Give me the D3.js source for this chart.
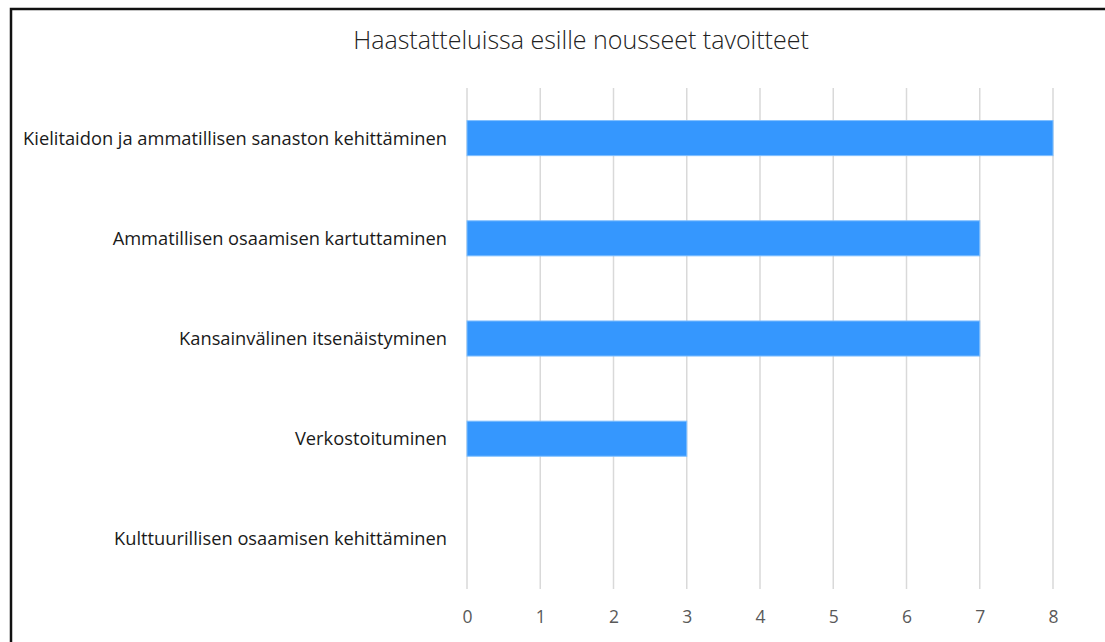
<!DOCTYPE html>
<html><head><meta charset="utf-8">
<script src="https://cdn.jsdelivr.net/npm/d3@7"></script>
<style>body{margin:0;background:#fff}svg{display:block}</style>
</head><body>
<svg id="c" width="1105" height="642"></svg>
<script>
const title = "Haastatteluissa esille nousseet tavoitteet";
const categories = [
  "Kielitaidon ja ammatillisen sanaston kehittäminen",
  "Ammatillisen osaamisen kartuttaminen",
  "Kansainvälinen itsenäistyminen",
  "Verkostoituminen",
  "Kulttuurillisen osaamisen kehittäminen"
];
const values = [8, 7, 7, 3, 0];
const ticks = [0, 1, 2, 3, 4, 5, 6, 7, 8];

const svg = d3.select("#c");
const font = "'Open Sans', sans-serif";

svg.append("rect").attr("x", 11).attr("y", 9).attr("width", 1200).attr("height", 700)
  .attr("fill", "none").attr("stroke", "#111").attr("stroke-width", 2.5);

const x = d3.scaleLinear().domain([0, 8]).range([467, 1053]);
const y = d3.scaleBand().domain(categories).range([88, 589]).paddingInner(0.65).paddingOuter(0.325);

svg.append("g").selectAll("line").data(ticks).join("line")
  .attr("x1", d => x(d)).attr("x2", d => x(d))
  .attr("y1", 88).attr("y2", 589)
  .attr("stroke", "#d9d9d9").attr("stroke-width", 1.5);

svg.append("g").selectAll("rect").data(categories).join("rect")
  .attr("x", x(0))
  .attr("y", d => y(d))
  .attr("width", (d, i) => x(values[i]) - x(0))
  .attr("height", y.bandwidth())
  .attr("fill", "#3597fe")
  .attr("stroke", (d, i) => values[i] > 0 ? "#7fbfff" : "none")
  .attr("stroke-width", 1);

svg.append("g").selectAll("text").data(categories).join("text")
  .attr("x", 447)
  .attr("y", d => y(d) + y.bandwidth() / 2)
  .attr("dy", "0.35em")
  .attr("text-anchor", "end")
  .attr("font-family", font).attr("font-size", 18.3)
  .attr("fill", "#1a1a1a")
  .text(d => d);

const xAxis = d3.axisBottom(x).tickValues(ticks).tickSize(0).tickPadding(0).tickFormat(d3.format("d"));
const gx = svg.append("g").attr("transform", "translate(0,611)").call(xAxis);
gx.select(".domain").remove();
gx.selectAll("text").attr("font-family", font).attr("font-size", 17.5).attr("fill", "#595959");

svg.append("text").attr("x", 581).attr("y", 40).attr("dy", "0.35em")
  .attr("text-anchor", "middle")
  .attr("font-family", font).attr("font-size", 25).attr("font-weight", 300)
  .attr("fill", "#222").text(title);
</script>
</body></html>
